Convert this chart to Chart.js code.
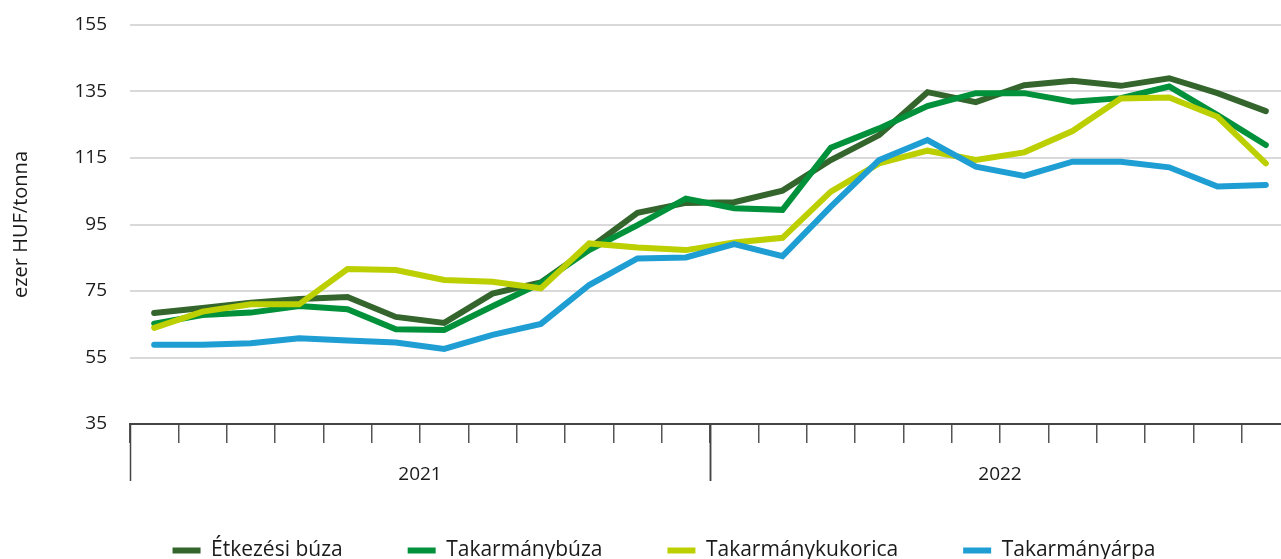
<!DOCTYPE html>
<html>
<head>
<meta charset="utf-8">
<script src="https://cdn.jsdelivr.net/npm/chart.js@4"></script>
<style>
  html, body { margin: 0; padding: 0; background: #fff; overflow: hidden; }
  #wrap { width: 1290px; height: 571px; }
</style>
</head>
<body>
<div id="wrap"><canvas id="chart" width="1290" height="571"></canvas></div>
<script>
// months shown on the x axis (2021-01 .. 2022-12)
const months = [
  '2021-01','2021-02','2021-03','2021-04','2021-05','2021-06','2021-07','2021-08','2021-09','2021-10','2021-11','2021-12',
  '2022-01','2022-02','2022-03','2022-04','2022-05','2022-06','2022-07','2022-08','2022-09','2022-10','2022-11','2022-12'
];
const years = ['2021', '2022'];
const yTicks = [35, 55, 75, 95, 115, 135, 155];

const etkezesiBuza = [68.4, 69.9, 71.5, 72.6, 73.2, 67.2, 65.4, 74.2, 77.6, 87.8, 98.5, 101.5,
                      101.7, 105.2, 114.4, 121.9, 134.8, 131.8, 136.9, 138.2, 136.7, 139.0, 134.5, 129.1];
const takarmanyBuza = [65.2, 67.8, 68.5, 70.5, 69.5, 63.5, 63.3, 70.4, 77.4, 87.3, 94.8, 102.8,
                       99.9, 99.4, 118.1, 123.9, 130.6, 134.5, 134.5, 131.9, 133.0, 136.5, 127.9, 118.9];
const takarmanyKukorica = [63.9, 68.8, 71.0, 71.0, 81.6, 81.3, 78.3, 77.8, 75.8, 89.3, 88.1, 87.3,
                           89.6, 91.0, 104.9, 113.4, 117.2, 114.4, 116.7, 123.1, 132.9, 133.2, 127.4, 113.4];
const takarmanyArpa = [58.8, 58.8, 59.3, 60.8, 60.1, 59.5, 57.6, 61.8, 65.1, 76.8, 84.8, 85.1,
                       89.1, 85.5, 100.4, 114.4, 120.4, 112.4, 109.6, 113.9, 113.9, 112.2, 106.4, 106.9];

const FONT = "'Open Sans', 'Noto Sans', sans-serif";
const TEXT = '#1a1a1a';

function line(label, data, color, order) {
  return {
    label: label,
    data: data,
    borderColor: color,
    backgroundColor: color,
    borderWidth: 6,
    borderCapStyle: 'round',
    pointRadius: 0,
    tension: 0,
    order: order
  };
}

// year separators and year labels under the month ticks
const yearAxis = {
  id: 'yearAxis',
  afterDraw(chart) {
    const x = chart.scales.x;
    const ctx = chart.ctx;
    const half = (x.getPixelForValue(1) - x.getPixelForValue(0)) / 2;
    const top = chart.chartArea.bottom;
    ctx.save();
    ctx.strokeStyle = '#444';
    ctx.lineWidth = 1.5;
    ctx.fillStyle = TEXT;
    ctx.font = '19px ' + FONT;
    ctx.textAlign = 'center';
    ctx.textBaseline = 'middle';
    years.forEach(year => {
      const idx = months.map((m, i) => m.startsWith(year) ? i : -1).filter(i => i >= 0);
      const start = x.getPixelForValue(idx[0]) - half;
      const end = x.getPixelForValue(idx[idx.length - 1]) + half;
      [start, end].forEach(px => {
        ctx.beginPath();
        ctx.moveTo(Math.round(px) + 0.5, top);
        ctx.lineTo(Math.round(px) + 0.5, top + 57);
        ctx.stroke();
      });
      ctx.fillText(year, (start + end) / 2, top + 51);
    });
    ctx.restore();
  }
};

new Chart(document.getElementById('chart'), {
  type: 'line',
  data: {
    labels: months,
    datasets: [
      line('Étkezési búza', etkezesiBuza, '#33652c', 4),
      line('Takarmánybúza', takarmanyBuza, '#00913a', 3),
      line('Takarmánykukorica', takarmanyKukorica, '#bccf00', 2),
      line('Takarmányárpa', takarmanyArpa, '#1e9ed3', 1)
    ]
  },
  options: {
    responsive: false,
    animation: false,
    layout: { padding: { top: 25, left: 38, right: 0, bottom: 0 } },
    plugins: {
      tooltip: { enabled: false },
      legend: {
        position: 'bottom',
        labels: {
          usePointStyle: true,
          pointStyle: 'line',
          pointStyleWidth: 28,
          padding: 65,
          color: TEXT,
          font: { family: FONT, size: 21 },
          sort: (a, b) => a.datasetIndex - b.datasetIndex
        }
      }
    },
    scales: {
      x: {
        offset: true,
        grid: {
          offset: true,
          drawOnChartArea: false,
          drawTicks: true,
          tickLength: 19,
          color: '#555',
          lineWidth: 1.5
        },
        border: { display: true, color: '#444', width: 2 },
        ticks: { display: false },
        afterFit(scale) { scale.height = 51; }
      },
      y: {
        min: yTicks[0],
        max: yTicks[yTicks.length - 1],
        afterBuildTicks(scale) { scale.ticks = yTicks.map(v => ({ value: v })); },
        grid: { color: '#d9d9d9', lineWidth: 2, drawTicks: true, tickLength: 23, tickColor: 'rgba(0,0,0,0)' },
        border: { display: false },
        ticks: { padding: 0, color: TEXT, font: { family: FONT, size: 19 } },
        title: {
          display: true,
          text: 'ezer HUF/tonna',
          color: TEXT,
          font: { family: FONT, size: 20 },
          padding: { top: -29, bottom: 0 }
        },
        afterFit(scale) { scale.width = 92; }
      }
    }
  },
  plugins: [yearAxis]
});
</script>
</body>
</html>
